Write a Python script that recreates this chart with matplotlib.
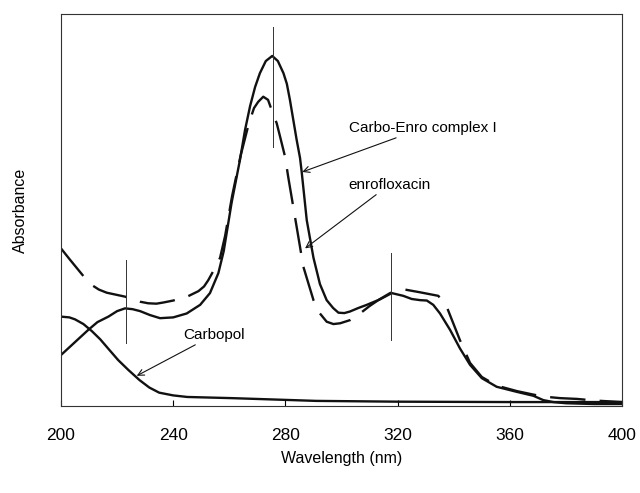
import matplotlib.pyplot as plt

plt.rcParams['font.family'] = ['Liberation Sans', 'DejaVu Sans']

# Carbo-Enro complex I (heltrukken)
complexWl = [200, 205, 209.7, 213, 216.9, 220, 222.8, 225.5, 228.2, 231.7, 235.3, 240, 244.8,
             249.6, 253.1, 256.1, 258, 260.8, 263.8, 265.6, 267.4, 269.2, 270.9, 273, 275.3,
             277.3, 279.3, 280.5, 281.6, 284, 285.2, 285.8, 287.6, 290, 292.3, 294.7, 297,
             298.9, 301, 303, 306, 309, 313.7, 317.9, 322, 325, 328, 330.4, 332.7, 335.1,
             338.7, 342.2, 345.8, 350, 355.3, 362.5, 368.4, 371.9, 375.5, 380, 390, 400]
complexAbs = [0.130, 0.163, 0.194, 0.214, 0.228, 0.242, 0.249, 0.247, 0.242, 0.232, 0.224,
              0.226, 0.236, 0.258, 0.288, 0.339, 0.395, 0.518, 0.628, 0.704, 0.765, 0.814,
              0.849, 0.880, 0.893, 0.880, 0.849, 0.822, 0.781, 0.679, 0.633, 0.597, 0.474,
              0.378, 0.311, 0.270, 0.250, 0.238, 0.237, 0.241, 0.250, 0.258, 0.272, 0.288,
              0.281, 0.273, 0.270, 0.269, 0.258, 0.236, 0.194, 0.147, 0.105, 0.071, 0.049,
              0.036, 0.026, 0.015, 0.010, 0.007, 0.005, 0.005]

# enrofloxacin (stiplet)
enroWl = [200, 203, 206.2, 208.5, 210.9, 213.5, 216.3, 222.8, 228.2, 231.1, 234, 236.5, 240,
          245, 249, 251, 252.5, 254.5, 256.7, 258.5, 261, 264, 267, 268.8, 270.3, 272.1, 273.8,
          275.1, 276.9, 278.1, 279.9, 281, 284, 286.4, 290, 292.3, 294.7, 297.1, 299.5, 303,
          306.6, 310, 313.5, 317.3, 320, 322.6, 328, 334.5, 337.5, 342.2, 345.8, 350, 355.3,
          362.5, 368.4, 372, 378, 384, 390, 400]
enroAbs = [0.402, 0.375, 0.347, 0.327, 0.309, 0.297, 0.289, 0.279, 0.266, 0.262, 0.261, 0.264,
           0.269, 0.279, 0.293, 0.305, 0.321, 0.347, 0.378, 0.434, 0.536, 0.638, 0.722, 0.760,
           0.776, 0.789, 0.781, 0.755, 0.721, 0.687, 0.635, 0.584, 0.457, 0.355, 0.270, 0.236,
           0.215, 0.209, 0.211, 0.219, 0.236, 0.255, 0.272, 0.288, 0.295, 0.297, 0.290, 0.281,
           0.253, 0.168, 0.110, 0.074, 0.052, 0.038, 0.029, 0.024, 0.020, 0.018, 0.014, 0.010]

# Carbopol (heltrukken)
carboWl = [200, 203, 205, 208, 211, 214, 217, 220.4, 224, 228, 231.5, 235, 240, 245, 261,
           291, 320, 360, 400]
carboAbs = [0.228, 0.226, 0.221, 0.209, 0.191, 0.170, 0.145, 0.117, 0.092, 0.066, 0.047,
            0.034, 0.027, 0.023, 0.020, 0.013, 0.011, 0.010, 0.010]

# markerlinjer (x, ybunn, ytopp)
markers = [(223, 0.161, 0.372), (275.5, 0.661, 0.967), (317.5, 0.168, 0.390)]

farge = '#111111'

fig = plt.figure(figsize=(6.4, 4.93), dpi=100)
ax = fig.add_axes([0.0953, 0.1765, 0.8767, 0.7951])

ax.plot(complexWl, complexAbs, color=farge, lw=1.7, solid_joinstyle='round')
ax.plot(enroWl, enroAbs, color=farge, lw=1.7, dashes=(15, 6))
ax.plot(carboWl, carboAbs, color=farge, lw=1.7, solid_joinstyle='round')

for xm, y0, y1 in markers:
    ax.plot([xm, xm], [y0, y1], color='#333333', lw=0.7)

pil = dict(arrowstyle='->', color=farge, lw=0.8, shrinkA=0, shrinkB=0)
ax.annotate('Carbo-Enro complex I', xy=(286, 0.597), xytext=(302.7, 0.709),
            fontsize=11, va='center', ha='left', arrowprops=pil)
ax.annotate('enrofloxacin', xy=(287, 0.402), xytext=(302.3, 0.564),
            fontsize=11, va='center', ha='left', arrowprops=pil)
ax.annotate('Carbopol', xy=(227, 0.077), xytext=(243.5, 0.181),
            fontsize=11, va='center', ha='left', arrowprops=pil)

ax.set_xlim(200, 400)
ax.set_ylim(0, 1)
ax.set_xticks([200, 240, 280, 320, 360, 400])
ax.set_yticks([])
ax.tick_params(axis='x', direction='in', length=4, width=0.8, pad=16, labelsize=12.5)
for s in ax.spines.values():
    s.set_linewidth(0.8)
    s.set_color('#333333')

ax.set_xlabel('Wavelength (nm)', fontsize=11.5, labelpad=5.7)
ax.set_ylabel('Absorbance', fontsize=11.5, labelpad=24)

fig.savefig('out.png', dpi=100)
